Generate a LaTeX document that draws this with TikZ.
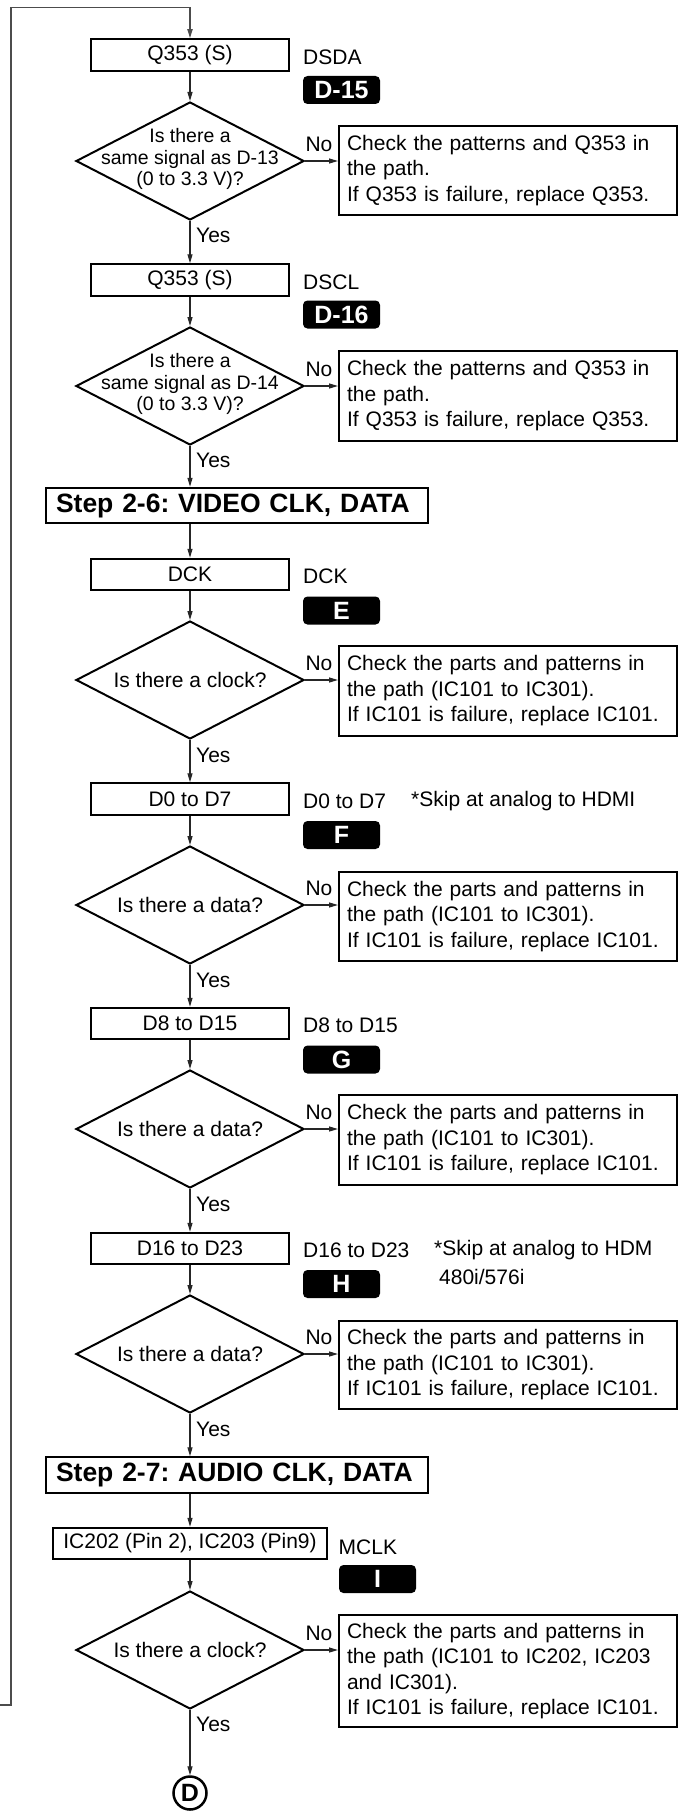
\documentclass[tikz,border=0pt]{standalone}
\usepackage{fontspec}
\setmainfont{Liberation Sans}
\usetikzlibrary{arrows.meta,shapes.geometric,calc}
\frenchspacing
\begin{document}
\begin{tikzpicture}[x=1pt,y=-1pt,
  every node/.style={font=\fontsize{21}{25.5}\selectfont\frenchspacing, text=black},
  pbox/.style={draw, line width=2pt, minimum width=198pt, minimum height=31.5pt, inner sep=0pt},
  dia/.style={draw, diamond, line width=2pt, minimum width=228pt, minimum height=118pt, inner sep=0pt},
  diat/.style={align=center, inner sep=0pt, font=\fontsize{19.5}{21.7}\selectfont\frenchspacing},
  chk/.style={draw, line width=2pt, text width=322pt, inner xsep=8pt, inner ysep=0pt, align=left},
  badge/.style={fill=black, rounded corners=4.5pt, minimum width=77pt, minimum height=28pt, inner sep=0pt, text=white, font=\fontsize{25}{25}\selectfont\bfseries},
  lbl/.style={anchor=west, inner sep=0pt},
  stepbox/.style={draw, line width=2pt, text width=362pt, inner xsep=10pt, inner ysep=0pt, minimum height=35.5pt, align=left, font=\fontsize{26.5}{30}\selectfont\bfseries\frenchspacing},
  arr/.style={line width=1.2pt, draw=black!85, -{Triangle[length=9pt,width=5pt]}},
  yeslbl/.style={anchor=west, inner sep=0pt},
  nolbl/.style={anchor=base, inner sep=0pt},
]
\useasboundingbox (0,0) rectangle (678,1817);
\fill[white] (0,0) rectangle (678,1817);

% ---- block 1
\node[pbox] (b1) at (190,55) {Q353 (S)};
\node[lbl] (l1) at (303,57) {DSDA};
\node[badge] (g1) at (341.5,90) {D-15};
\node[dia] (d1) at (190,161) {};
\node[diat] (d1t) at (190,159) {Is there a\\same signal as D-13\\(0 to 3.3 V)?};
\node[chk, minimum height=89pt] (c1) at (508,170.5) {Check the patterns and Q353 in\\the path.\\If Q353 is failure, replace Q353.};
\node[nolbl] (n1) at (319,151.5) {No};
\node[yeslbl] (y1) at (196,235) {Yes};

% ---- block 2
\node[pbox] (b2) at (190,280) {Q353 (S)};
\node[lbl] (l2) at (303,282) {DSCL};
\node[badge] (g2) at (341.5,314.5) {D-16};
\node[dia] (d2) at (190,386) {};
\node[diat] (d2t) at (190,384) {Is there a\\same signal as D-14\\(0 to 3.3 V)?};
\node[chk, minimum height=90pt] (c2) at (508,396) {Check the patterns and Q353 in\\the path.\\If Q353 is failure, replace Q353.};
\node[nolbl] (n2) at (319,376.5) {No};
\node[yeslbl] (y2) at (196,460) {Yes};

% ---- step 2-6
\node[stepbox] (s1) at (237,505.5) {\mbox{Step 2-6: VIDEO CLK, DATA}};

% ---- block 3
\node[pbox] (b3) at (190,574.5) {DCK};
\node[lbl] (l3) at (303,576) {DCK};
\node[badge] (g3) at (341.5,610.5) {E};
\node[dia] (d3) at (190,680) {};
\node[diat, font=\fontsize{21}{25}\selectfont] (d3t) at (190,680) {Is there a clock?};
\node[chk, minimum height=90pt] (c3) at (508,691) {Check the parts and patterns in\\the path (IC101 to IC301).\\If IC101 is failure, replace IC101.};
\node[nolbl] (n3) at (319,670.5) {No};
\node[yeslbl] (y3) at (196,755) {Yes};

% ---- block 4
\node[pbox] (b4) at (190,799) {D0 to D7};
\node[lbl] (l4) at (303,801) {D0 to D7};
\node[lbl] (k4) at (411,801) {*Skip at analog to HDMI};
\node[badge] (g4) at (341.5,835) {F};
\node[dia] (d4) at (190,905) {};
\node[diat, font=\fontsize{21}{25}\selectfont] (d4t) at (190,905) {Is there a data?};
\node[chk, minimum height=89pt] (c4) at (508,916.5) {Check the parts and patterns in\\the path (IC101 to IC301).\\If IC101 is failure, replace IC101.};
\node[nolbl] (n4) at (319,895.5) {No};
\node[yeslbl] (y4) at (196,980) {Yes};

% ---- block 5
\node[pbox] (b5) at (190,1023.5) {D8 to D15};
\node[lbl] (l5) at (303,1025) {D8 to D15};
\node[badge] (g5) at (341.5,1059.5) {G};
\node[dia] (d5) at (190,1129) {};
\node[diat, font=\fontsize{21}{25}\selectfont] (d5t) at (190,1129) {Is there a data?};
\node[chk, minimum height=90pt] (c5) at (508,1140) {Check the parts and patterns in\\the path (IC101 to IC301).\\If IC101 is failure, replace IC101.};
\node[nolbl] (n5) at (319,1119.5) {No};
\node[yeslbl] (y5) at (196,1204) {Yes};

% ---- block 6
\node[pbox] (b6) at (190,1248.5) {D16 to D23};
\node[lbl] (l6) at (303,1250) {D16 to D23};
\node[lbl] (k6) at (434,1250) {*Skip at analog to HDM};
\node[lbl] (k6b) at (439,1277) {480i/576i};
\node[badge] (g6) at (341.5,1284) {H};
\node[dia] (d6) at (190,1354) {};
\node[diat, font=\fontsize{21}{25}\selectfont] (d6t) at (190,1354) {Is there a data?};
\node[chk, minimum height=88pt] (c6) at (508,1365) {Check the parts and patterns in\\the path (IC101 to IC301).\\If IC101 is failure, replace IC101.};
\node[nolbl] (n6) at (319,1344.5) {No};
\node[yeslbl] (y6) at (196,1429) {Yes};

% ---- step 2-7
\node[stepbox] (s2) at (237,1475) {\mbox{Step 2-7: AUDIO CLK, DATA}};

% ---- block 7
\node[pbox, minimum width=274pt] (b7) at (190,1543.5) {IC202 (Pin 2), IC203 (Pin9)};
\node[lbl] (l7) at (338.5,1547) {MCLK};
\node[badge] (g7) at (377.5,1579) {I};
\node[dia] (d7) at (190,1650) {};
\node[diat, font=\fontsize{21}{25}\selectfont] (d7t) at (190,1650) {Is there a clock?};
\node[chk, minimum height=112pt] (c7) at (508,1671) {Check the parts and patterns in\\the path (IC101 to IC202, IC203\\and IC301).\\If IC101 is failure, replace IC101.};
\node[nolbl] (n7) at (319,1640.5) {No};
\node[yeslbl] (y7) at (196,1724) {Yes};

\node[draw, circle, line width=2.5pt, minimum size=33pt, inner sep=0pt, font=\fontsize{25}{25}\selectfont\bfseries] (dd) at (190,1793) {D};

% ---- loop
\coordinate (lin) at (0,1705);
\coordinate (lc1) at (11,1705);
\coordinate (lc2) at (11,7.5);
\draw[arr, line width=1.6pt, draw=black!70] (lin) -- (lc1) -- (lc2) -| (b1.north);

% ---- connectors
\draw[arr] (b1) -- (d1);
\draw[arr] (d1) -- (b2);
\draw[arr] (b2) -- (d2);
\draw[arr] (d2.south) -- (d2.south |- s1.north);
\draw[arr] (b3.north |- s1.south) -- (b3.north);
\draw[arr] (b3) -- (d3);
\draw[arr] (d3) -- (b4);
\draw[arr] (b4) -- (d4);
\draw[arr] (d4) -- (b5);
\draw[arr] (b5) -- (d5);
\draw[arr] (d5) -- (b6);
\draw[arr] (b6) -- (d6);
\draw[arr] (d6.south) -- (d6.south |- s2.north);
\draw[arr] (b7.north |- s2.south) -- (b7.north);
\draw[arr] (b7) -- (d7);
\draw[arr] (d7) -- (dd);

\foreach \i in {1,...,7} {
  \draw[arr] (d\i.east) -- (d\i.east -| c\i.west);
}
\end{tikzpicture}
\end{document}
